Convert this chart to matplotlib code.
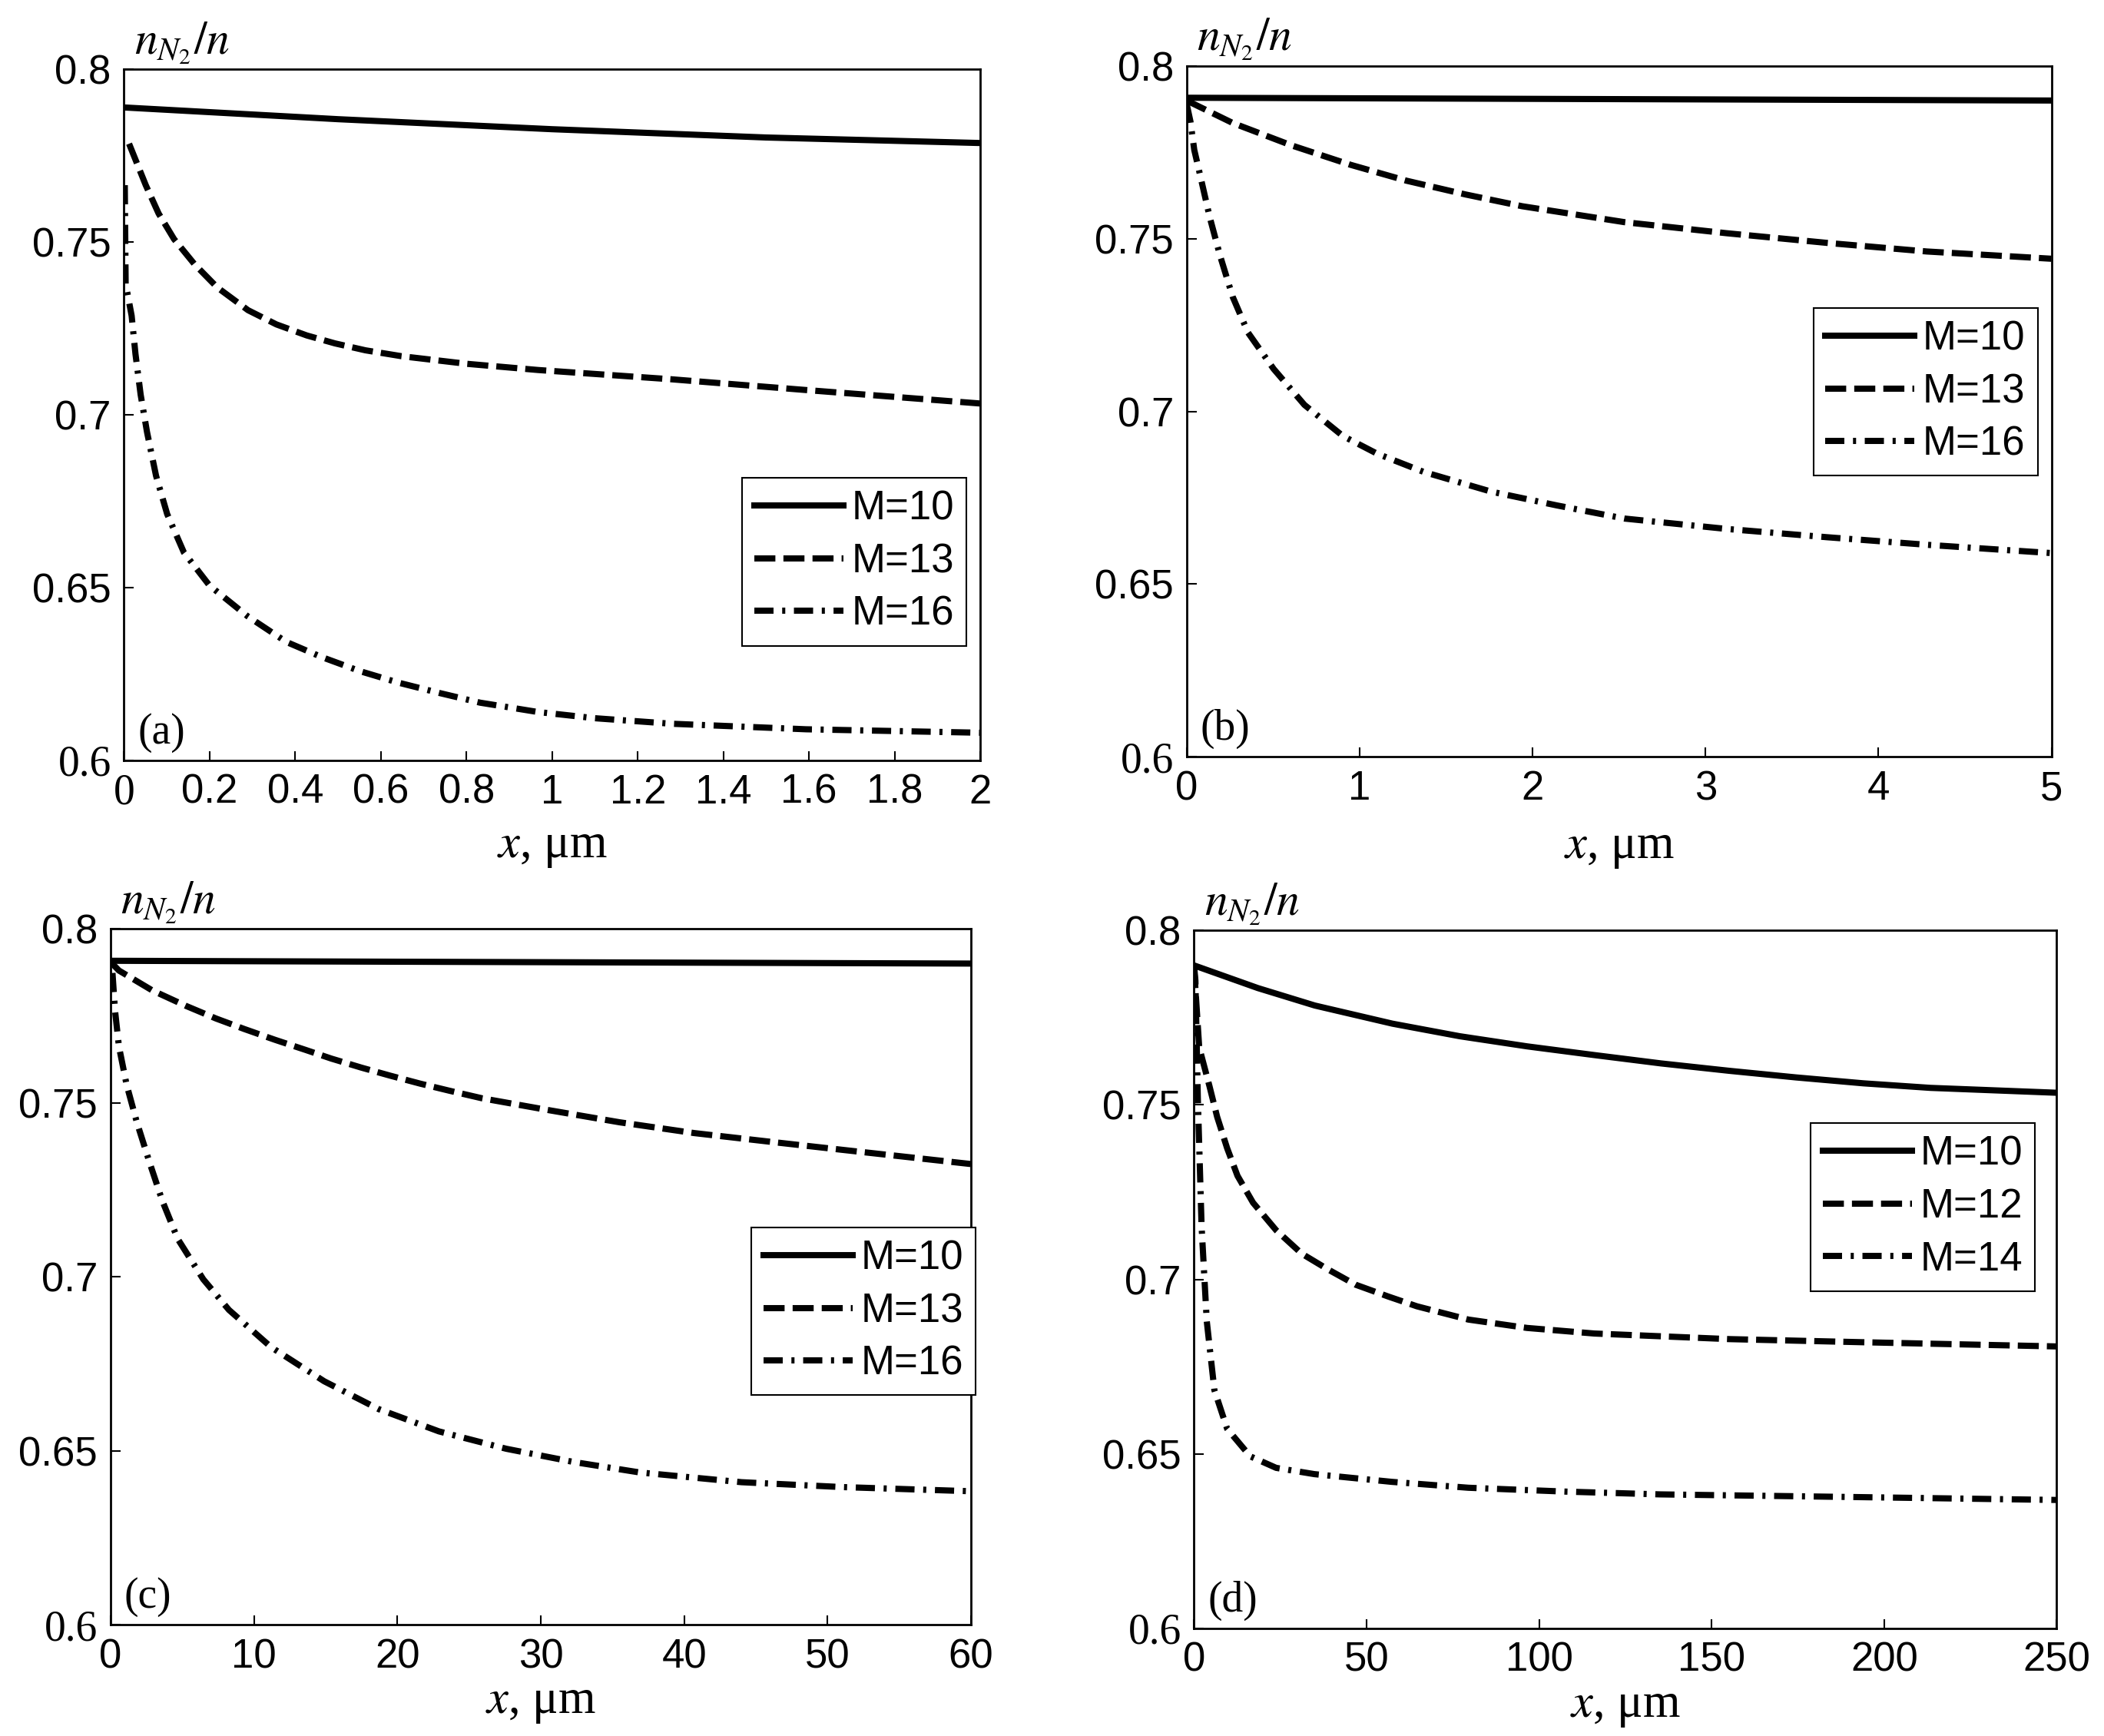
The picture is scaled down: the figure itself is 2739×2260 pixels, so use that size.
import matplotlib
matplotlib.use("Agg")
import matplotlib.pyplot as plt
from matplotlib import font_manager

plt.rcParams['mathtext.fontset'] = 'stix'

# the tick/legend digits in the original are tall and narrow
names = {f.name for f in font_manager.fontManager.ttflist}
if 'Liberation Sans Narrow' in names:
    SANS, TICK_FS, LEG_FS = 'Liberation Sans Narrow', 45, 42
else:
    SANS, TICK_FS, LEG_FS = 'Liberation Sans', 38, 38

# ---- panel (a): x in um, 0..2
a_x10 = [0, 0.5, 1.0, 1.5, 2.0]
a_y10 = [0.789, 0.7856, 0.7827, 0.7803, 0.7787]
a_x13 = [0.012, 0.051, 0.081, 0.117, 0.165, 0.218, 0.290, 0.356, 0.427, 0.493, 0.564, 0.648,
         0.80, 0.967, 1.28, 1.593, 2.0]
a_y13 = [0.7785, 0.7665, 0.7583, 0.7509, 0.7436, 0.7369, 0.7303, 0.7262, 0.7230, 0.7207, 0.7187,
         0.7170, 0.7148, 0.7130, 0.7103, 0.7072, 0.7033]
a_x16 = [0.002, 0.004, 0.018, 0.027, 0.039, 0.054, 0.075, 0.101, 0.140, 0.200, 0.289, 0.379,
         0.462, 0.552, 0.641, 0.737, 0.832, 0.967, 1.1, 1.28, 1.593, 2.0]
a_y16 = [0.7665, 0.738, 0.7287, 0.7176, 0.7059, 0.6950, 0.6824, 0.6713, 0.6602, 0.6506, 0.6417,
         0.6343, 0.6299, 0.6258, 0.6225, 0.6195, 0.6167, 0.6140, 0.6122, 0.6106, 0.6090, 0.608]

# ---- panel (b): 0..5
b_x10 = [0, 2.5, 5]
b_y10 = [0.7908, 0.7904, 0.790]
b_x13 = [0, 0.266, 0.607, 0.947, 1.27, 1.613, 1.94, 2.53, 3.12, 3.70, 4.28, 5.0]
b_y13 = [0.790, 0.7835, 0.7770, 0.7714, 0.7668, 0.7628, 0.7594, 0.7548, 0.7516, 0.7488, 0.7463,
         0.7442]
b_x16 = [0, 0.022, 0.044, 0.082, 0.133, 0.193, 0.266, 0.355, 0.503, 0.681, 0.903, 1.1, 1.37,
         1.76, 2.14, 2.53, 3.12, 3.70, 4.28, 5.0]
b_y16 = [0.789, 0.7839, 0.7757, 0.7675, 0.7563, 0.7451, 0.7332, 0.7228, 0.7123, 0.7019, 0.6929,
         0.6878, 0.6825, 0.6768, 0.6728, 0.669, 0.666, 0.6636, 0.6614, 0.659]

# ---- panel (c): 0..60
c_x10 = [0, 30, 60]
c_y10 = [0.7908, 0.7904, 0.790]
c_x13 = [0, 0.59, 2.91, 5.23, 7.37, 9.33, 11.47, 13.6, 15.4, 17.5, 19.5, 21.6, 23.6, 25.9,
         30.4, 35.5, 40.7, 45.8, 51.0, 60]
c_y13 = [0.7905, 0.788, 0.7823, 0.7779, 0.7742, 0.7712, 0.7681, 0.7652, 0.7627, 0.7601, 0.7578,
         0.7555, 0.7535, 0.7513, 0.748, 0.7444, 0.7413, 0.7389, 0.7365, 0.7324]
c_x16 = [0.14, 0.32, 0.59, 1.12, 1.84, 2.73, 3.62, 4.69, 6.47, 8.26, 11.2, 14.9, 18.7, 22.9,
         27.6, 32.3, 36.9, 44.0, 51.0, 60]
c_y16 = [0.7873, 0.7764, 0.7662, 0.7553, 0.7444, 0.7328, 0.7218, 0.7109, 0.6993, 0.6905, 0.6798,
         0.670, 0.662, 0.6556, 0.6506, 0.6468, 0.6438, 0.6410, 0.6396, 0.6384]

# ---- panel (d): 0..250
d_x10 = [0, 18.5, 35, 57.5, 77, 96.5, 116, 135.4, 155, 174.4, 194, 213.4, 250]
d_y10 = [0.790, 0.7835, 0.7785, 0.7733, 0.7697, 0.7668, 0.7643, 0.7619, 0.7598, 0.7579, 0.7562,
         0.7549, 0.7535]
d_x12 = [0, 1.5, 4.45, 6.7, 9.6, 12.6, 17.1, 23.8, 31.2, 38.6, 46.8, 56.3, 64.6, 79.5, 96.5,
         116, 155, 194, 250]
d_y12 = [0.7895, 0.7665, 0.7555, 0.7466, 0.7376, 0.7297, 0.722, 0.7141, 0.7074, 0.7030, 0.6985,
         0.6951, 0.6923, 0.6885, 0.6861, 0.6845, 0.6829, 0.682, 0.6808]
d_x14 = [0, 0.4, 1.1, 2.2, 3.7, 5.9, 9.6, 16.3, 23.8, 34.9, 57.2, 79.5, 107.6, 135, 194, 250]
d_y14 = [0.790, 0.7857, 0.752, 0.715, 0.688, 0.6683, 0.6572, 0.6493, 0.646, 0.6442, 0.642,
         0.6403, 0.6392, 0.6384, 0.6376, 0.6368]

yticks = [0.6, 0.65, 0.7, 0.75, 0.8]
ylabels = ['0.6', '0.65', '0.7', '0.75', '0.8']

panels = [
    dict(rect=[0.0589, 0.562, 0.407, 0.398], xmax=2,
         xticks=[0, 0.2, 0.4, 0.6, 0.8, 1, 1.2, 1.4, 1.6, 1.8, 2],
         xlabels=['0', '0.2', '0.4', '0.6', '0.8', '1', '1.2', '1.4', '1.6', '1.8', '2'],
         data=[(a_x10, a_y10), (a_x13, a_y13), (a_x16, a_y16)], names=['M=10', 'M=13', 'M=16'],
         letter='(a)', leg=(0.984, 0.409), xlab_y=-0.126, serif_zero=True),
    dict(rect=[0.564, 0.564, 0.411, 0.398], xmax=5,
         xticks=[0, 1, 2, 3, 4, 5], xlabels=['0', '1', '2', '3', '4', '5'],
         data=[(b_x10, b_y10), (b_x13, b_y13), (b_x16, b_y16)], names=['M=10', 'M=13', 'M=16'],
         letter='(b)', leg=(0.984, 0.65), xlab_y=-0.132, serif_zero=False),
    dict(rect=[0.0525, 0.064, 0.409, 0.401], xmax=60,
         xticks=[0, 10, 20, 30, 40, 50, 60], xlabels=['0', '10', '20', '30', '40', '50', '60'],
         data=[(c_x10, c_y10), (c_x13, c_y13), (c_x16, c_y16)], names=['M=10', 'M=13', 'M=16'],
         letter='(c)', leg=(1.005, 0.571), xlab_y=-0.112, serif_zero=False),
    dict(rect=[0.5675, 0.062, 0.410, 0.402], xmax=250,
         xticks=[0, 50, 100, 150, 200, 250], xlabels=['0', '50', '100', '150', '200', '250'],
         data=[(d_x10, d_y10), (d_x12, d_y12), (d_x14, d_y14)], names=['M=10', 'M=12', 'M=14'],
         letter='(d)', leg=(0.975, 0.724), xlab_y=-0.112, serif_zero=False),
]

styles = ['-', (0, (3.4, 1.3)), (0, (3.1, 1.4, 0.5, 1.4))]

fig = plt.figure(figsize=(27.39, 22.60), dpi=100)

for p in panels:
    ax = fig.add_axes(p['rect'])
    for (xs, ys), ls, name in zip(p['data'], styles, p['names']):
        ax.plot(xs, ys, color='black', linestyle=ls, linewidth=5.8, label=name)
    ax.set_xlim(0, p['xmax'])
    ax.set_ylim(0.6, 0.8)
    ax.set_xticks(p['xticks'], labels=p['xlabels'])
    ax.set_yticks(yticks, labels=ylabels)
    ax.tick_params(direction='in', length=9, width=1.5, labelsize=TICK_FS, pad=12,
                   top=False, right=False)
    for lbl in ax.get_xticklabels() + ax.get_yticklabels():
        lbl.set_fontfamily(SANS)
    first = ax.get_yticklabels()[0]
    first.set_fontfamily('Liberation Serif')
    first.set_fontsize(40)
    if p['serif_zero']:
        z = ax.get_xticklabels()[0]
        z.set_fontfamily('Liberation Serif')
        z.set_fontsize(40)
    for s in ax.spines.values():
        s.set_linewidth(2)

    ax.text(0.012, 1.005, r'$n_{N_2}/n$', transform=ax.transAxes, fontsize=43,
            ha='left', va='bottom')
    ax.text(0.5, p['xlab_y'], r'$x$, μm', transform=ax.transAxes, fontsize=45,
            family='Liberation Serif', ha='center', va='center')
    ax.text(0.016, 0.04, p['letter'], transform=ax.transAxes, fontsize=40,
            family='Liberation Serif', ha='left', va='center')

    leg = ax.legend(loc='upper right', bbox_to_anchor=p['leg'], frameon=True, fancybox=False,
                    edgecolor='black', framealpha=1, handlelength=2.2, handletextpad=0.2,
                    labelspacing=0.35, borderpad=0.3, borderaxespad=0,
                    prop={'family': SANS, 'size': LEG_FS})
    leg.get_frame().set_linewidth(1.5)

fig.savefig('out.png', dpi=100)
